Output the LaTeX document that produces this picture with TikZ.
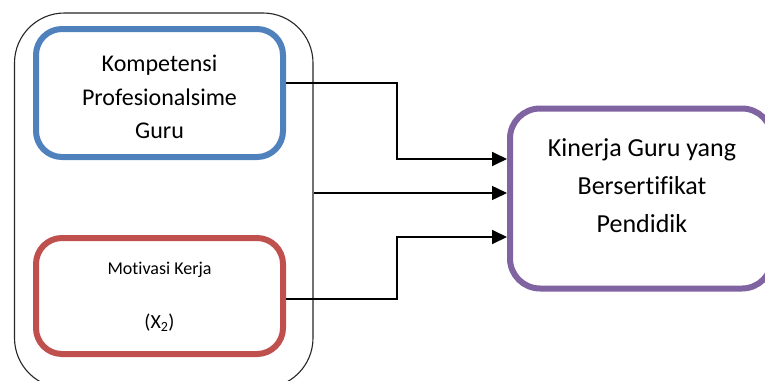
\documentclass[tikz,border=0pt]{standalone}
\usepackage{fontspec}
\setmainfont{Carlito}[RawFeature={-liga;-clig;-dlig}]
\usetikzlibrary{arrows.meta}
\definecolor{cblue}{HTML}{4F81BD}
\definecolor{cred}{HTML}{C0504D}
\definecolor{cpurple}{HTML}{8064A2}
\tikzset{
  box/.style={draw, rounded corners=26pt, line width=6pt, inner sep=0pt, fill=white},
  groupbox/.style={draw=black!85, rounded corners=50pt, line width=1.1pt, inner sep=0pt},
  txt/.style={align=center, inner sep=0pt, text=black},
  conn/.style={line width=1.8pt, -{Triangle[length=15pt,width=14pt]}},
}
\begin{document}
\begin{tikzpicture}[x=1pt,y=-1pt]
\clip (0,0) rectangle (765,380);
\fill[white] (0,0) rectangle (765,380);
\node[groupbox, minimum width=298.5pt, minimum height=375pt] (group) at (163.75,200.5) {};
\node[box, draw=cblue, minimum width=247pt, minimum height=128pt] (blue) at (159.5,93) {};
\node[box, draw=cred, minimum width=247pt, minimum height=116pt] (red) at (159.5,296) {};
\node[box, draw=cpurple, minimum width=262pt, minimum height=180pt, rounded corners=30pt] (purple) at (641,198.5) {};
\node[txt, font=\fontsize{24}{33.5}\selectfont] (bluetxt) at (159.5,97) {Kompetensi\\Profesionalsime\\Guru};
\node[txt, font=\fontsize{18}{22}\selectfont] (redtxt1) at (159.5,270) {Motivasi Kerja};
\node[txt, font=\fontsize{20}{24}\selectfont] (redtxt2) at (159.5,323) {(X\textsubscript{2})};
\node[txt, font=\fontsize{26}{38}\selectfont] (purpletxt) at (642,186) {Kinerja Guru yang\\Bersertifikat\\Pendidik};
\coordinate (j1) at (397,159);
\coordinate (mid) at (400,193);
\coordinate (j2) at (397,237);
\draw[conn] ([yshift=10pt]blue.east) -| (j1) -- (purple.west |- j1);
\draw[conn, line width=1.5pt] (group.east |- mid) -- (purple.west |- mid);
\draw[conn] ([yshift=-3pt]red.east) -| (j2) -- (purple.west |- j2);
\end{tikzpicture}
\end{document}
